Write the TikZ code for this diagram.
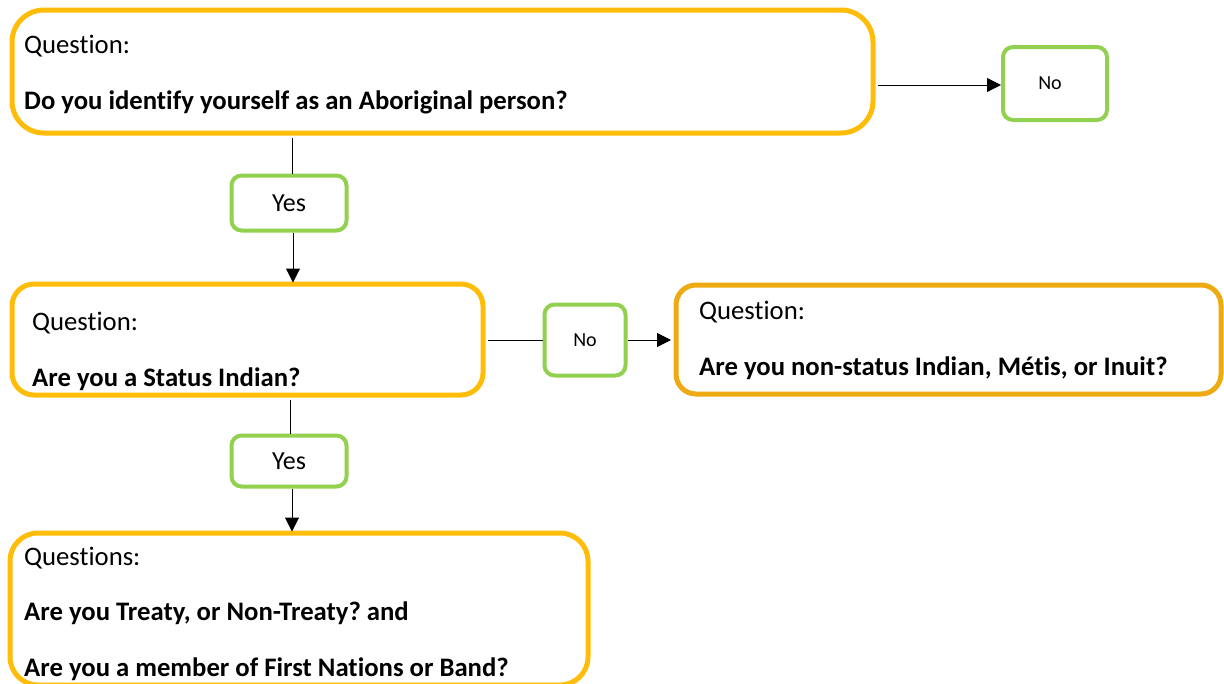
\documentclass[tikz,border=0pt]{standalone}
\usepackage{fontspec}
\setmainfont{Carlito}[Ligatures=NoCommon]
\frenchspacing
\usetikzlibrary{arrows.meta}
\definecolor{gold}{HTML}{FFBD0A}
\definecolor{gold2}{HTML}{EDAA12}
\definecolor{lgreen}{HTML}{92D050}
\tikzset{
  qbox/.style={draw=gold, line width=5pt, fill=white, inner sep=0pt},
  abox/.style={draw=lgreen, line width=4pt, fill=white, rounded corners=10pt, inner sep=0pt},
  qlabel/.style={anchor=base west, inner sep=0pt, font=\fontsize{26.7}{30}\selectfont},
  qtext/.style={anchor=base west, inner sep=0pt, font=\fontsize{26.7}{30}\selectfont\bfseries},
  conn/.style={draw=black, line width=1pt},
  arr/.style={conn, -{Triangle[length=14pt,width=14pt]}},
}
\begin{document}
\begin{tikzpicture}[x=1pt,y=-1pt]
\useasboundingbox[fill=white] (0,0) rectangle (1224,683);
% boxes
\node[qbox, rounded corners=32pt, minimum width=861pt, minimum height=123pt] (q1) at (442.5,71.5) {};
\node[qbox, rounded corners=22pt, minimum width=471pt, minimum height=111pt] (q2) at (247.5,339.5) {};
\node[qbox, draw=gold2, rounded corners=20pt, minimum width=545pt, minimum height=109pt] (q3) at (948.5,339.5) {};
\node[qbox, rounded corners=28pt, minimum width=578pt, minimum height=152pt] (q4) at (299,609) {};
% answer boxes
\node[abox, minimum width=104pt, minimum height=73pt, font=\fontsize{20}{24}\selectfont, text width=96pt, align=center] (n1) at (1055,83.5) {\hspace*{-10pt}No};
\node[abox, minimum width=115pt, minimum height=55pt, font=\fontsize{26}{30}\selectfont] (y1) at (289,203) {Yes};
\node[abox, minimum width=81pt, minimum height=71pt, font=\fontsize{20}{24}\selectfont] (n2) at (585,340) {No};
\node[abox, minimum width=115pt, minimum height=51pt, font=\fontsize{26}{30}\selectfont] (y2) at (289,461) {Yes};
% texts
\node[qlabel] (t1a) at (24,53) {Question:};
\node[qtext] (t1b) at (24,109) {Do you identify yourself as an Aboriginal person?};
\node[qlabel] (t2a) at (32,330) {Question:};
\node[qtext] (t2b) at (32,386) {Are you a Status Indian?};
\node[qlabel] (t3a) at (699,319) {Question:};
\node[qtext] (t3b) at (699,375) {Are you non-status Indian, Métis, or Inuit?};
\node[qlabel] (t4a) at (24,565) {Questions:};
\node[qtext] (t4b) at (24,620) {Are you Treaty, or Non-Treaty? and};
\node[qtext] (t4c) at (24,676) {Are you a member of First Nations or Band?};
% connectors
\draw[arr] (q1.east |- n1.west) ++(2.5pt,-1.5pt) -- ([yshift=-1.5pt]n1.west);
\draw[conn] ([yshift=-2.5pt]q1.south -| 292,0) -- ([xshift=3pt]y1.north);
\draw[arr] ([xshift=4pt]y1.south) -- ([yshift=-1pt]q2.north -| 293,0);
\draw[conn] ([xshift=2.5pt]q2.east |- n2.west) -- (n2.west);
\draw[arr] (n2.east) -- ([xshift=-2.5pt]q3.west |- n2.east);
\draw[conn] ([yshift=-2.5pt]q2.south -| 290,0) -- ([xshift=1pt]y2.north);
\draw[arr] ([xshift=3pt]y2.south) -- ([yshift=-1pt]q4.north -| 292,0);
\end{tikzpicture}
\end{document}
